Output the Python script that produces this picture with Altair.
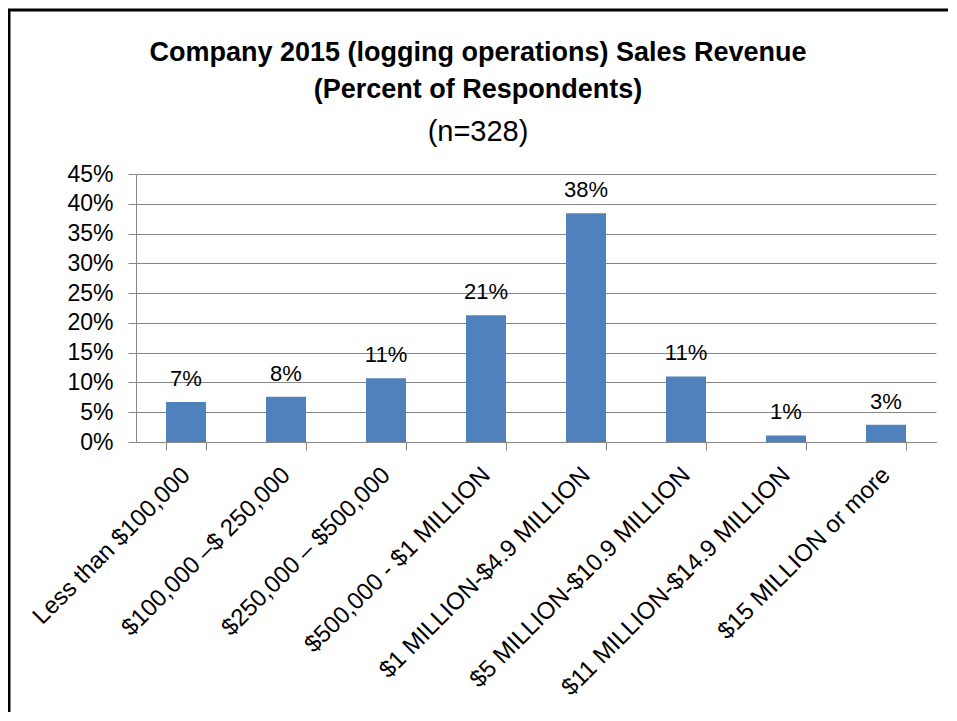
import altair as alt
import pandas as pd

categories = [
    "Less than $100,000",
    "$100,000 \u2013$ 250,000",
    "$250,000 \u2013 $500,000",
    "$500,000 - $1 MILLION",
    "$1 MILLION-$4.9 MILLION",
    "$5 MILLION-$10.9 MILLION",
    "$11 MILLION-$14.9 MILLION",
    "$15 MILLION or more",
]
percent_values = [6.7, 7.6, 10.7, 21.3, 38.4, 11.0, 1.1, 2.9]
y_ticks = [0, 0.05, 0.10, 0.15, 0.20, 0.25, 0.30, 0.35, 0.40, 0.45]

F = "Liberation Sans"
GREY = "#868686"
BAR = "#4F81BD"

df = pd.DataFrame({"category": categories, "pct": [v / 100 for v in percent_values]})

x_enc = alt.X(
    "category:N",
    sort=categories,
    scale=alt.Scale(paddingInner=0.6, paddingOuter=0.3),
    axis=alt.Axis(
        title=None,
        labelAngle=-45,
        labelAlign="right",
        labelBaseline="middle",
        labelFontSize=24,
        labelFont=F,
        labelColor="black",
        labelLimit=0,
        labelOverlap=False,
        labelPadding=21,
        labelOffset=0,
        tickBand="extent",
        tickSize=8,
        tickColor=GREY,
        domainColor=GREY,
        grid=False,
    ),
)
y_enc = alt.Y(
    "pct:Q",
    scale=alt.Scale(domain=[0, 0.45], nice=False),
    axis=alt.Axis(
        title=None,
        values=y_ticks,
        tickCount=10,
        format=".0%",
        labelFontSize=23,
        labelFont=F,
        labelColor="black",
        labelPadding=15,
        labelOverlap=False,
        labelFlush=False,
        tickSize=8,
        tickColor=GREY,
        domainColor=GREY,
        gridColor=GREY,
        grid=True,
    ),
)

base = alt.Chart(df)
bars = base.mark_bar(color=BAR).encode(x=x_enc, y=y_enc)
labels = base.mark_text(baseline="bottom", dy=-11, fontSize=22, font=F, color="black").encode(
    x=x_enc,
    y=y_enc,
    text=alt.Text("pct:Q", format=".0%"),
)

frame_df = pd.DataFrame({"k": [0]})
left_border = alt.Chart(frame_df).mark_rule(color="black", strokeWidth=3).encode(
    x=alt.value(-127), y=alt.value(-164), y2=alt.value(600)
)
top_border = alt.Chart(frame_df).mark_rule(color="black", strokeWidth=3).encode(
    x=alt.value(-128), x2=alt.value(1000), y=alt.value(-164)
)

chart = (
    alt.layer(bars, labels, left_border, top_border)
    .properties(
        width=800,
        height=268,
        padding={"left": 128, "top": 166, "right": 12, "bottom": 270},
        autosize="none",
        background="white",
        title=alt.TitleParams(
            text=["Company 2015 (logging operations) Sales Revenue", "(Percent of Respondents)"],
            subtitle="(n=328)",
            font=F,
            fontSize=27,
            fontWeight="bold",
            color="black",
            lineHeight=37,
            subtitleFont=F,
            subtitleFontSize=29,
            subtitleColor="black",
            subtitlePadding=14,
            anchor="middle",
            frame="group",
            dx=-58,
            offset=-139,
        ),
    )
    .configure_view(stroke=None)
)

chart.save("out.html", embed_options={"renderer": "svg", "actions": False})
